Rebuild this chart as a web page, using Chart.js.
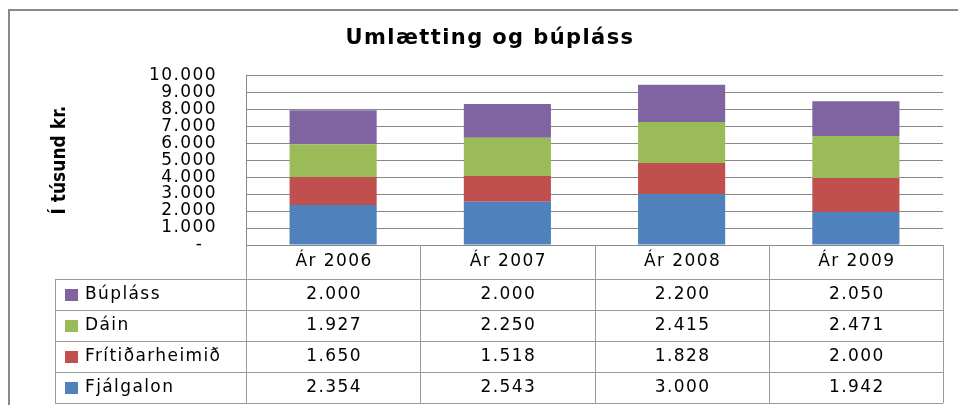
<!DOCTYPE html>
<html>
<head>
<meta charset="utf-8">
<script src="https://cdn.jsdelivr.net/npm/chart.js@4"></script>
<style>
    html, body { margin: 0; padding: 0; background: #fff; }
    #wrap { width: 958px; height: 405px; }
</style>
</head>
<body>
<div id="wrap"><canvas id="chart"></canvas></div>
<script>
// ==========================================
// DATA
// ==========================================
const years = ['Ár 2006', 'Ár 2007', 'Ár 2008', 'Ár 2009'];
const fjalgalon = [2354, 2543, 3000, 1942];
const fritidarheimid = [1650, 1518, 1828, 2000];
const dain = [1927, 2250, 2415, 2471];
const buplass = [2000, 2000, 2200, 2050];
const yMax = 10000;
const yStep = 1000;

// thousands separator is a dot
const fmt = v => String(v).replace(/\B(?=(\d{3})+(?!\d))/g, '.');

const textFont = "'DejaVu Sans', Verdana, sans-serif";
const spacing = '1.4px';

// ==========================================
// PLUGINS
// ==========================================
const framePlugin = {
    id: 'frame',
    beforeDraw(chart) {
        const ctx = chart.ctx;
        ctx.save();
        ctx.strokeStyle = '#8a8a8a';
        ctx.lineWidth = 2;
        ctx.strokeRect(9, 10, 1000, 1000);
        ctx.restore();
        // slightly wider letters like the reference (scale + title text)
        ctx.letterSpacing = spacing;
    }
};

const tablePlugin = {
    id: 'dataTable',
    afterDraw(chart) {
        const { ctx, chartArea: area, scales: { x } } = chart;
        const colW = (area.right - area.left) / years.length;
        const headTop = area.bottom;
        const rowsTop = headTop + 34;
        const rowH = 31;
        const legendLeft = 55;
        const rows = chart.data.datasets.slice().reverse();
        const bottom = rowsTop + rows.length * rowH;

        ctx.save();
        ctx.letterSpacing = '0px';

        // y axis title
        ctx.save();
        ctx.translate(60, (area.top + area.bottom) / 2);
        ctx.rotate(-Math.PI / 2);
        ctx.font = "bold 19px 'Liberation Sans Narrow', 'DejaVu Sans Condensed', 'Roboto Condensed', sans-serif";
        ctx.fillStyle = '#000';
        ctx.textAlign = 'center';
        ctx.textBaseline = 'middle';
        ctx.fillText('Í túsund kr.', 0, 0);
        ctx.restore();

        // grid of the table
        ctx.strokeStyle = '#9a9a9a';
        ctx.lineWidth = 1;
        ctx.beginPath();
        for (let i = 0; i <= years.length; i++) {
            const xx = Math.round(area.left + i * colW) + 0.5;
            ctx.moveTo(xx, headTop);
            ctx.lineTo(xx, bottom);
        }
        ctx.moveTo(legendLeft + 0.5, rowsTop);
        ctx.lineTo(legendLeft + 0.5, bottom);
        for (let r = 0; r <= rows.length; r++) {
            const yy = rowsTop + r * rowH + 0.5;
            ctx.moveTo(legendLeft, yy);
            ctx.lineTo(area.right, yy);
        }
        ctx.stroke();

        // texts
        ctx.letterSpacing = spacing;
        ctx.font = '17px ' + textFont;
        ctx.fillStyle = '#000';
        ctx.textBaseline = 'middle';
        ctx.textAlign = 'center';
        years.forEach((y, i) => {
            ctx.fillText(y, x.getPixelForValue(i) + 1, headTop + 17);
        });
        rows.forEach((ds, r) => {
            const cy = rowsTop + r * rowH + 16;
            ctx.textAlign = 'center';
            ds.data.forEach((v, i) => {
                ctx.fillText(fmt(v), x.getPixelForValue(i) + 1, cy);
            });
            ctx.fillStyle = ds.backgroundColor;
            ctx.fillRect(65, cy - 6, 13, 12);
            ctx.fillStyle = '#000';
            ctx.textAlign = 'left';
            ctx.fillText(ds.label, 85, cy);
        });
        ctx.restore();
        ctx.letterSpacing = '0px';
    }
};

// ==========================================
// CHART
// ==========================================
const ctx = document.getElementById('chart').getContext('2d');

new Chart(ctx, {
    type: 'bar',
    data: {
        labels: years,
        datasets: [
            { label: 'Fjálgalon', data: fjalgalon, backgroundColor: '#4F81BD' },
            { label: 'Frítiðarheimið', data: fritidarheimid, backgroundColor: '#C0504D' },
            { label: 'Dáin', data: dain, backgroundColor: '#9BBB59' },
            { label: 'Búpláss', data: buplass, backgroundColor: '#8064A2' }
        ]
    },
    options: {
        responsive: true,
        maintainAspectRatio: false,
        animation: false,
        layout: {
            padding: { left: 37, right: 15, top: 0, bottom: 160 }
        },
        datasets: {
            bar: { categoryPercentage: 1, barPercentage: 0.5, borderWidth: 0 }
        },
        plugins: {
            legend: { display: false },
            tooltip: { enabled: false },
            title: {
                display: true,
                text: 'Umlætting og búpláss',
                color: '#000',
                font: { family: textFont, size: 21, weight: 'bold' },
                padding: { top: 26, bottom: 24 }
            }
        },
        scales: {
            x: {
                stacked: true,
                display: false
            },
            y: {
                stacked: true,
                min: 0,
                max: yMax,
                afterFit: scale => { scale.width = 209; },
                ticks: {
                    stepSize: yStep,
                    autoSkip: false,
                    padding: 29,
                    color: '#000',
                    font: { family: textFont, size: 17, lineHeight: 1 },
                    callback: v => v === 0 ? '-  ' : fmt(v)
                },
                grid: { color: '#888', lineWidth: 1, drawTicks: false },
                border: { display: true, color: '#888' }
            }
        }
    },
    plugins: [framePlugin, tablePlugin]
});
</script>
</body>
</html>
